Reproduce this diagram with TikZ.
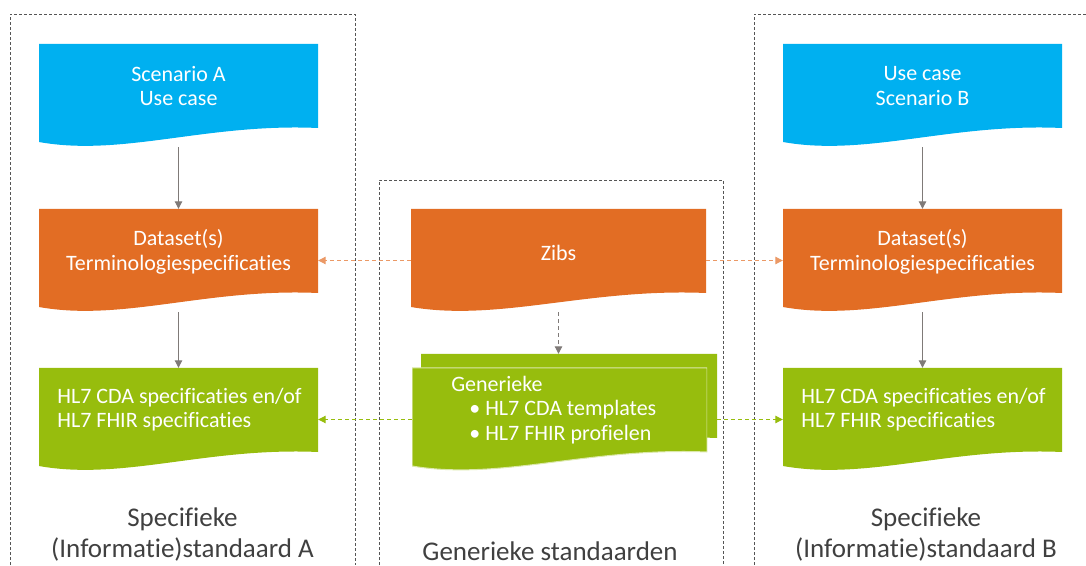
\documentclass[tikz,border=0pt]{standalone}
\usepackage{fontspec}
\setmainfont{Carlito}[Ligatures=NoCommon]
\usetikzlibrary{arrows.meta,calc}
\definecolor{usecase}{HTML}{00B0F0}
\definecolor{dataset}{HTML}{E26D24}
\definecolor{hlseven}{HTML}{97BD0D}
\definecolor{pijlgrijs}{HTML}{7F7A78}
\definecolor{kader}{HTML}{555555}
\definecolor{opschrift}{HTML}{404040}

\begin{document}
\begin{tikzpicture}[x=1pt,y=1pt,
    doc/.style={minimum width=279pt, minimum height=103pt, inner sep=0pt,
      path picture={\fill[#1] let \p1=(path picture bounding box.south west),
        \p2=(path picture bounding box.north east), \n1={\x2-\x1} in
        (\x1,\y2) -- (\x2,\y2) -- (\x2,\y1+19pt)
        .. controls (\x1+0.6*\n1,\y1+24pt) and (\x1+0.3*\n1,\y1-10pt) .. (\x1,\y1+5pt) -- cycle;}},
    boxtext/.style={text=white, font=\fontsize{22}{24.5}\selectfont, align=center},
    labeltext/.style={text=opschrift, font=\fontsize{27}{31}\selectfont, align=center},
    kaderlijn/.style={draw=kader, line width=0.8pt, dash pattern=on 3pt off 2pt},
    pijl/.style={draw=pijlgrijs, line width=1pt, -{Triangle[width=7.5pt,length=7.5pt]}},
    pijlstreep/.style={pijl, dash pattern=on 4pt off 3pt}]
  \useasboundingbox (0,0) rectangle (1086,565);

  % kaders
  \draw[kaderlijn] (10,0) -- (10,551) -- (355,551) -- (355,0);
  \draw[kaderlijn] (379,0) -- (379,385) -- (723,385) -- (723,0);
  \draw[kaderlijn] (754,0) -- (754,551) -- (1086,551);

  % standaard A
  \node[doc=usecase] (uca) at (178.5,469.5) {};
  \node[doc=dataset] (dsa) at (178.5,304.5) {};
  \node[doc=hlseven] (hla) at (178.5,145.5) {};
  \node[boxtext] (ucaT) at ([yshift=9.5pt]uca.center) {Scenario A\\Use case};
  \node[boxtext] (dsaT) at ([yshift=8.5pt]dsa.center) {Dataset(s)\\Terminologiespecificaties};
  \node[boxtext,align=left,anchor=west] (hlaT) at ([xshift=15pt,yshift=10pt]hla.west)
    {HL7 CDA specificaties en/of\\HL7 FHIR specificaties};

  % generiek
  \node[doc=dataset,minimum width=295pt] (zib) at (558.5,304.5) {};
  \node[doc=hlseven,minimum width=296pt] (gen2) at (569,159.5) {};
  \node[doc={hlseven,draw=hlseven!35!white,line width=1pt},minimum width=295pt] (gen) at (559.5,145.5) {};
  \node[boxtext] (zibT) at ([yshift=7.5pt]zib.center) {Zibs};
  \node[boxtext,align=left,anchor=west] (genT) at ([xshift=36pt,yshift=9.5pt]gen.west)
    {Generieke\\\hspace*{18pt}\textbullet\hspace{5pt}HL7 CDA templates\\\hspace*{18pt}\textbullet\hspace{5pt}HL7 FHIR profielen};

  % standaard B
  \node[doc=usecase] (ucb) at (922.5,469.5) {};
  \node[doc=dataset] (dsb) at (922.5,304.5) {};
  \node[doc=hlseven] (hlb) at (922.5,145.5) {};
  \node[boxtext] (ucbT) at ([yshift=9.5pt]ucb.center) {Use case\\Scenario B};
  \node[boxtext] (dsbT) at ([yshift=8.5pt]dsb.center) {Dataset(s)\\Terminologiespecificaties};
  \node[boxtext,align=left,anchor=west] (hlbT) at ([xshift=15pt,yshift=10pt]hlb.west)
    {HL7 CDA specificaties en/of\\HL7 FHIR specificaties};

  % pijlen
  \draw[pijl] (uca.south) -- (dsa.north);
  \draw[pijl] (dsa.south) -- (hla.north);
  \draw[pijl] (ucb.south) -- (dsb.north);
  \draw[pijl] (dsb.south) -- (hlb.north);
  \draw[pijlstreep] (zib.south) -- (zib.south |- gen2.north);
  \draw[pijlstreep,draw=dataset!70!white] (zib.west) -- (dsa.east);
  \draw[pijlstreep,draw=dataset!70!white] (zib.east) -- (dsb.west);
  \draw[pijlstreep,draw=hlseven] (gen.west) -- (hla.east);
  \draw[pijlstreep,draw=hlseven] (gen2.east |- hlb.west) -- (hlb.west);

  % opschriften
  \node[labeltext] (stdA) at (182.5,31) {Specifieke\\(Informatie)standaard A};
  \node[labeltext] (stdG) at (550,14) {Generieke standaarden};
  \node[labeltext] (stdB) at (926,31) {Specifieke\\(Informatie)standaard B};
\end{tikzpicture}
\end{document}
